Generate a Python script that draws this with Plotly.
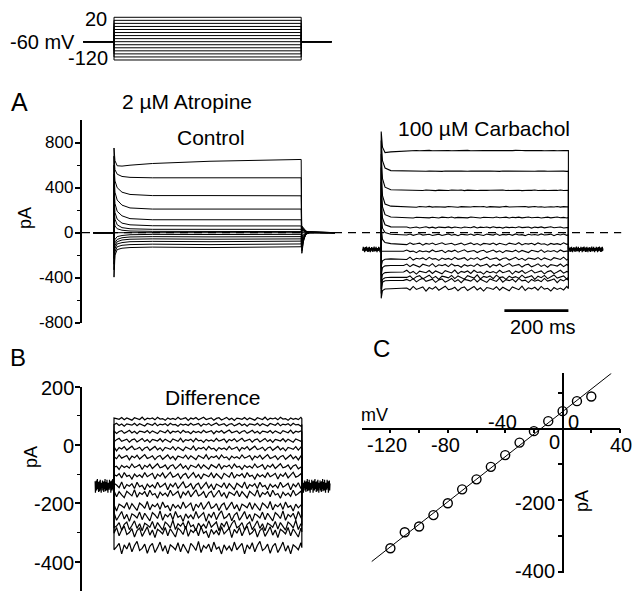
import plotly.graph_objects as go

W, H = 635, 591

# ---------------- data ----------------
voltages_mv = [-120, -110, -100, -90, -80, -70, -60, -50, -40, -30, -20, -10, 0, 10, 20]

# voltage protocol
holding_mv = -60
step_ms = 585
proto_pre_ms = -96
proto_post_ms = 680

# panel A, control (values at ctrl_knot_ms), ascending voltage
ctrl_pre_ms = -65
ctrl_knot_ms = [0, 3, 10, 25, 50, 120, 300, 585]
ctrl_knots_pa = [
    [-395, -200, -150, -138, -132, -128, -132, -125],
    [-330, -170, -125, -112, -106, -102, -106, -100],
    [-280, -140, -100, -88, -80, -77, -80, -75],
    [-230, -115, -80, -65, -58, -55, -58, -55],
    [-180, -90, -60, -45, -38, -35, -37, -35],
    [-130, -60, -35, -25, -18, -15, -16, -15],
    [0, 0, 0, 0, 0, 0, 0, 0],
    [120, 60, 35, 22, 15, 12, 11, 10],
    [220, 120, 70, 45, 35, 30, 30, 30],
    [330, 180, 120, 85, 70, 62, 60, 60],
    [430, 260, 190, 150, 125, 115, 115, 115],
    [520, 360, 290, 245, 220, 210, 210, 210],
    [600, 460, 400, 360, 340, 330, 330, 328],
    [680, 560, 520, 500, 492, 488, 488, 488],
    [753, 640, 595, 592, 600, 615, 635, 651],
]
ctrl_tail_ms = [587, 592, 600, 612, 690]
ctrl_tail_pa = [
    [60, 40, 15, 3, 0], [50, 35, 12, 3, 0], [45, 30, 10, 2, 0], [40, 25, 8, 2, 0],
    [30, 20, 6, 1, 0], [20, 12, 4, 1, 0], [0, 0, 0, 0, 0], [-30, -15, -5, 0, 0],
    [-50, -25, -8, 0, 0], [-70, -35, -10, 0, 0], [-90, -45, -12, 2, 0],
    [-110, -55, -15, 3, 0], [-130, -60, -10, 5, 0], [-160, -70, -5, 8, 0],
    [-183, -80, 0, 10, 0],
]

# panel A, carbachol
carb_onset_ms = 835
carb_hold_pre_ms = -58
carb_hold_post_ms = 693
carb_holding_pa = -148
carb_band_pa = 28
carb_knot_ms = [0, 4, 12, 30, 70]
carb_knots_pa = [
    [-583, -515, -500, -498, -497],
    [-540, -440, -427, -425, -424],
    [-500, -415, -400, -396, -395],
    [-440, -370, -355, -351, -350],
    [-380, -310, -295, -292, -291],
    [-300, -250, -236, -233, -232],
    [-165, -165, -165, -165, -165],
    [50, -60, -88, -97, -100],
    [200, 40, 2, -14, -17],
    [330, 130, 70, 52, 48],
    [450, 230, 160, 140, 136],
    [580, 330, 255, 236, 231],
    [700, 480, 405, 382, 378],
    [820, 640, 575, 552, 548],
    [900, 760, 712, 718, 725],
]
carb_plateau_pa = [-497, -424, -395, -350, -291, -232, -165, -100, -18, 47, 135, 230, 377, 547, 730]
carb_wiggle_pa = [24, 22, 22, 20, 18, 16, 14, 12, 9, 7, 5, 4, 3, 2, 2]

# panel B, difference
diff_hold_pre_ms = -59
diff_hold_post_ms = 675
diff_off_ms = 587
diff_holding_pa = -140
diff_band_pa = 26
diff_plateau_pa = [-352, -298, -276, -244, -210, -168, -140, -105, -74, -42, -12, 16, 45, 70, 90]
diff_wiggle_pa = [24, 22, 20, 20, 18, 16, 15, 13, 11, 10, 9, 8, 7, 6, 6]

# hand-read irregular fluctuation shape (relative units)
noise = [0.2, -0.5, 0.8, -0.3, 0.1, 0.6, -0.9, 0.4, -0.2, 0.7, -0.6, 0.3, 0.9, -0.4,
         -0.1, 0.5, -0.8, 0.2, 0.6, -0.7, 0.0, 0.8, -0.5, 0.3, -0.9, 0.4, 0.1, -0.3,
         0.7, -0.6, 0.5, -0.2, -0.8, 0.6, 0.2, -0.4, 0.9, -0.7, 0.3, -0.1, 0.5, -0.6,
         0.8, -0.2, 0.1, -0.9, 0.4, -0.3]

zero_line_ms = [-100, 1585]
scalebar_ms = [1220, 1420]
scalebar_pa = -693

# panel C, I-V of difference current
iv_mv = voltages_mv
iv_pa = [-335, -290, -274, -242, -209, -170, -142, -107, -74, -39, -7, 21, 49, 77, 90]
fit_mv = [-133, 34]
fit_pa = [-372, 155]

# tick labels
a_ticks = [-800, -400, 0, 400, 800]
b_ticks = [-400, -200, 0, 200]
c_x_ticks = [-120, -100, -80, -60, -40, -20, 20, 40]
c_y_ticks = [-400, -300, -200, -100, 100]

# ---------------- figure ----------------
FONT = "Liberation Sans, Arial, sans-serif"
N = len(noise)


def fx(px):
    return px / W


def fy(py):
    return 1 - py / H


def line(x, y, xa, ya, width=1.0, dash=None):
    return go.Scatter(x=x, y=y, mode="lines", xaxis=xa, yaxis=ya,
                      line=dict(color="black", width=width, dash=dash),
                      hoverinfo="skip", showlegend=False)


traces = []

# protocol
for v in voltages_mv:
    traces.append(line([proto_pre_ms, 0, 0, step_ms, step_ms, proto_post_ms],
                       [holding_mv, holding_mv, v, v, holding_mv, holding_mv], "x", "y", 1.0))

# control
for k in range(len(voltages_mv)):
    xs = [ctrl_pre_ms, 0] + ctrl_knot_ms + ctrl_tail_ms
    ys = [0, 0] + ctrl_knots_pa[k] + ctrl_tail_pa[k]
    traces.append(line(xs, ys, "x2", "y2", 1.0))

# carbachol holding bands
band_x, band_y = [], []
for j, t in enumerate(range(carb_hold_pre_ms, 1)):
    band_x.append(carb_onset_ms + t)
    band_y.append(carb_holding_pa + carb_band_pa * noise[j % N])
traces.append(line(band_x, band_y, "x2", "y2", 1.2))
band_x, band_y = [], []
for j, t in enumerate(range(step_ms, carb_hold_post_ms + 1)):
    band_x.append(carb_onset_ms + t)
    band_y.append(carb_holding_pa + carb_band_pa * noise[(j + 11) % N])
traces.append(line(band_x, band_y, "x2", "y2", 1.2))

# carbachol steps
for k in range(len(voltages_mv)):
    xs = [carb_onset_ms, carb_onset_ms] + [carb_onset_ms + t for t in carb_knot_ms]
    ys = [carb_holding_pa, carb_knots_pa[k][0]] + carb_knots_pa[k]
    for j, t in enumerate(range(80, step_ms, 10)):
        xs.append(carb_onset_ms + t)
        ys.append(carb_plateau_pa[k] + carb_wiggle_pa[k] * noise[(j + 7 * k) % N])
    xs += [carb_onset_ms + step_ms, carb_onset_ms + step_ms]
    ys += [carb_plateau_pa[k], carb_holding_pa]
    traces.append(line(xs, ys, "x2", "y2", 1.1))

# zero line and scale bar
traces.append(line(zero_line_ms, [0, 0], "x2", "y2", 1.3, "8px,6px"))
traces.append(line(scalebar_ms, [scalebar_pa, scalebar_pa], "x2", "y2", 2.6))

# difference holding bands
band_x, band_y = [], []
for j, t in enumerate(range(diff_hold_pre_ms, 1)):
    band_x.append(t)
    band_y.append(diff_holding_pa + diff_band_pa * noise[(j + 5) % N])
traces.append(line(band_x, band_y, "x3", "y3", 1.2))
band_x, band_y = [], []
for j, t in enumerate(range(diff_off_ms, diff_hold_post_ms + 1)):
    band_x.append(t)
    band_y.append(diff_holding_pa + diff_band_pa * noise[(j + 19) % N])
traces.append(line(band_x, band_y, "x3", "y3", 1.2))

# difference traces
for k in range(len(voltages_mv)):
    xs = [0]
    ys = [diff_holding_pa]
    for j, t in enumerate(range(0, step_ms, 8)):
        xs.append(t)
        ys.append(diff_plateau_pa[k] + diff_wiggle_pa[k] * noise[(j + 5 * k + 3) % N])
    xs += [diff_off_ms, diff_off_ms]
    ys += [diff_plateau_pa[k], diff_holding_pa]
    traces.append(line(xs, ys, "x3", "y3", 1.2))

# I-V
traces.append(line(fit_mv, fit_pa, "x4", "y4", 1.0))
traces.append(go.Scatter(x=iv_mv, y=iv_pa, mode="markers", xaxis="x4", yaxis="y4",
                         marker=dict(symbol="circle-open", size=9, color="black",
                                     line=dict(width=1.4, color="black")),
                         hoverinfo="skip", showlegend=False))

fig = go.Figure(traces)

t_range = [(82 - 114) / 0.32, (625 - 114) / 0.32]
xdom = [fx(82), fx(625)]
axis_common = dict(showline=True, linecolor="black", linewidth=1.6, ticks="outside",
                   tickcolor="black", tickwidth=1.5, showgrid=False, zeroline=False,
                   automargin=False, showticklabels=False)
hidden = dict(visible=False, automargin=False, showgrid=False, zeroline=False)

fig.update_layout(
    width=W, height=H, autosize=False,
    margin=dict(l=0, r=0, t=0, b=0, pad=0, autoexpand=False),
    paper_bgcolor="white", plot_bgcolor="rgba(0,0,0,0)", showlegend=False,
    xaxis=dict(domain=xdom, range=t_range, anchor="y", **hidden),
    yaxis=dict(domain=[fy(70), fy(10)], range=[-152.8, 43.9], anchor="x", **hidden),
    xaxis2=dict(domain=xdom, range=t_range, anchor="y2", **hidden),
    yaxis2=dict(domain=[fy(322.7), fy(120.2)], range=[-800, 1000], anchor="x2",
                tickvals=a_ticks, ticklen=5,
                minor=dict(tickvals=[-600, -200, 200, 600], ticks="outside", ticklen=3,
                           tickcolor="black", tickwidth=1.2),
                **axis_common),
    xaxis3=dict(domain=xdom, range=t_range, anchor="y3", **hidden),
    yaxis3=dict(domain=[fy(590.8), fy(386.7)], range=[-500, 200], anchor="x3",
                tickvals=b_ticks, ticklen=5,
                minor=dict(tickvals=[-300, -100, 100], ticks="outside", ticklen=3,
                           tickcolor="black", tickwidth=1.2),
                **axis_common),
    xaxis4=dict(domain=[fx(361.7), fx(620)], range=[-140, 40], anchor="free",
                position=fy(428.6), ticklen=4, tickvals=c_x_ticks, **axis_common),
    yaxis4=dict(domain=[fy(573.3), fy(373.3)], range=[-405, 155], anchor="free",
                position=fx(562.5), side="left", ticklen=4, tickvals=c_y_ticks,
                **axis_common),
)


def txt(s, x, y, size=20, xanchor="center", angle=0):
    return dict(text=s, x=fx(x), y=fy(y), xref="paper", yref="paper", xanchor=xanchor,
                yanchor="middle", showarrow=False, textangle=angle,
                font=dict(family=FONT, size=size, color="black"))


# tick labels as text placed beside their ticks (pixel positions from the reference)
a_label_y = [322.7, 277.7, 232.7, 187.7, 142.7]
b_label_y = [562.7, 504.3, 446.0, 387.7]

ann = [txt(str(v), 75, yy, 17, "right") for v, yy in zip(a_ticks, a_label_y)]
ann += [txt(str(v), 76, yy, 20, "right") for v, yy in zip(b_ticks, b_label_y)]
ann += [
    txt("-60 mV", 77, 42, 20, "right"),
    txt("20", 109, 19, 20, "right"),
    txt("-120", 110, 58, 20, "right"),
    txt("A", 19, 102, 25),
    txt("2 \u00b5M Atropine", 187, 102, 21),
    txt("Control", 211, 137, 21),
    txt("100 \u00b5M Carbachol", 484, 128, 21),
    txt("200 ms", 543, 327, 20),
    txt("pA", 25, 218, 18, angle=-90),
    txt("B", 18, 357, 24),
    txt("Difference", 212, 397, 21),
    txt("pA", 31, 457, 18, angle=-90),
    txt("C", 381, 348, 24),
    txt("mV", 374, 415, 18),
    txt("-120", 387, 445, 20),
    txt("-80", 445, 445, 20),
    txt("-40", 502, 422, 20),
    txt("0", 573, 422, 20),
    txt("0", 554, 442, 20),
    txt("40", 621, 445, 20),
    txt("-200", 557, 503, 20, "right"),
    txt("-400", 557, 571, 20, "right"),
    txt("pA", 582, 501, 18, angle=-90),
]
fig.update_layout(annotations=ann)

fig.write_html("out.html", config={"displayModeBar": False, "responsive": False},
               post_script="document.body.style.margin='0';document.body.style.overflow='hidden';")
